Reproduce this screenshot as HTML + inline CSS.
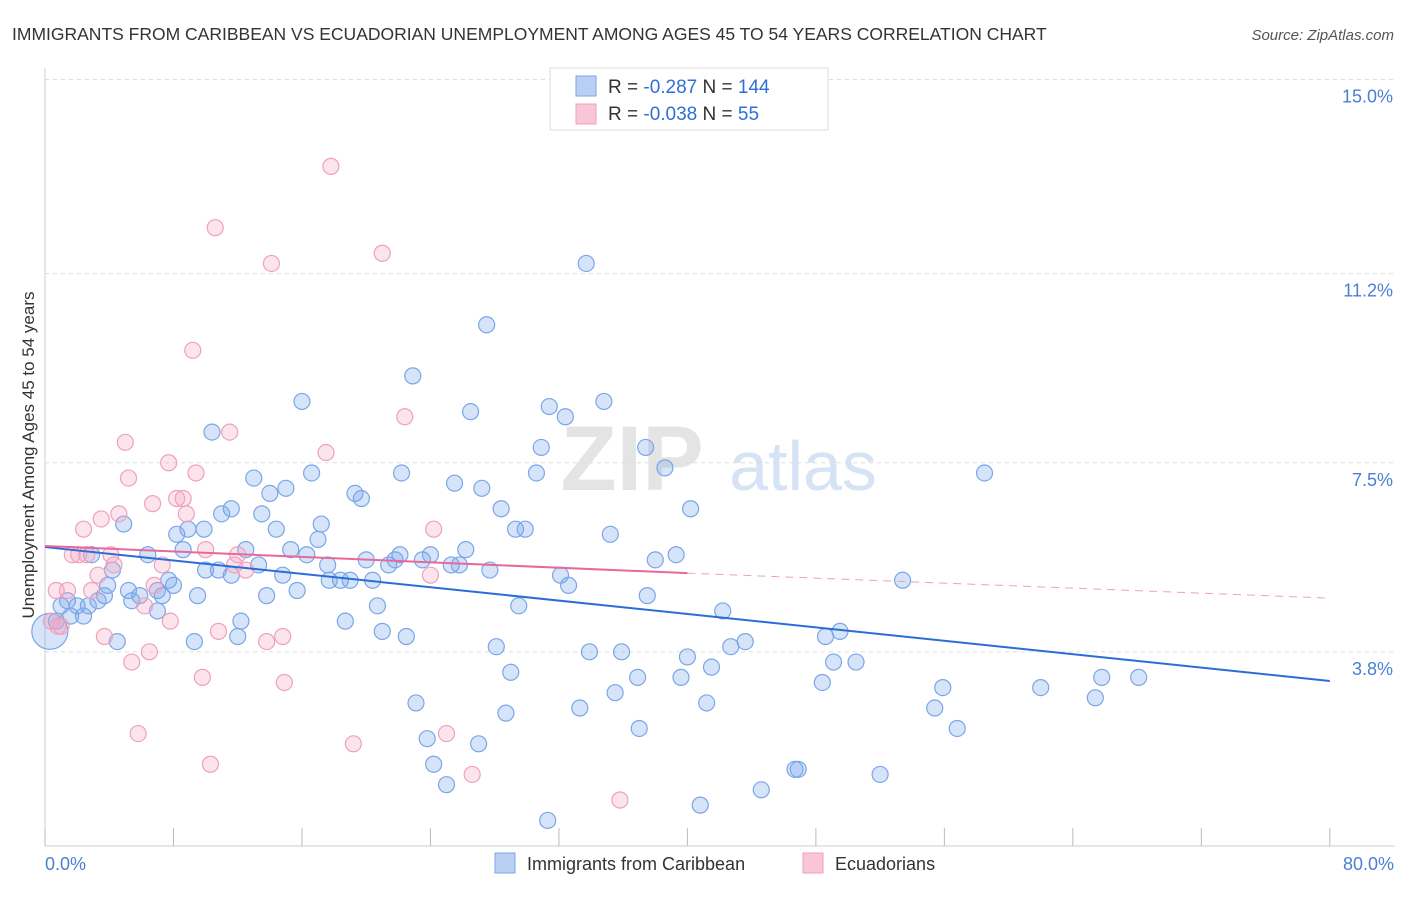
<!DOCTYPE html>
<html><head><meta charset="utf-8"><style>
body{margin:0;background:#fff;font-family:"Liberation Sans",sans-serif;}
svg text{font-family:"Liberation Sans",sans-serif;}
</style></head><body>
<svg id="chart" width="1406" height="892" xmlns="http://www.w3.org/2000/svg">
<text x="12" y="40" font-size="17.5" fill="#333">IMMIGRANTS FROM CARIBBEAN VS ECUADORIAN UNEMPLOYMENT AMONG AGES 45 TO 54 YEARS CORRELATION CHART</text>
<text x="1394" y="40" font-size="15" fill="#555" font-style="italic" text-anchor="end">Source: ZipAtlas.com</text>
<g><text x="632" y="490" font-size="92" fill="#e4e4e4" text-anchor="middle" font-family="Liberation Serif" font-weight="bold">ZIP</text><text x="803" y="490" font-size="70" fill="#d6e3f4" text-anchor="middle">atlas</text></g>
<g id="grid"></g><g id="axes"></g><g id="pts"></g><g id="lines"></g>
<text x="34" y="455" font-size="17" fill="#333" text-anchor="middle" transform="rotate(-90 34 455)">Unemployment Among Ages 45 to 54 years</text>
<text x="45" y="870" font-size="18" fill="#4a7fd4">0.0%</text>
<text x="1394" y="870" font-size="18" fill="#4a7fd4" text-anchor="end">80.0%</text>
<g>
<rect x="550" y="68" width="278" height="62" fill="#fff" stroke="#ddd"/>
<rect x="576" y="76" width="20" height="20" fill="#b9d0f3" stroke="#7aa6e8"/>
<rect x="576" y="104" width="20" height="20" fill="#f9c6d6" stroke="#f0a0bb"/>
<text x="608" y="93" font-size="19" fill="#333">R = <tspan fill="#2f6fd6">-0.287</tspan>   N = <tspan fill="#2f6fd6">144</tspan></text>
<text x="608" y="120" font-size="19" fill="#333">R = <tspan fill="#2f6fd6">-0.038</tspan>   N = <tspan fill="#2f6fd6">  55</tspan></text>
</g>
<g>
<rect x="495" y="853" width="20" height="20" fill="#b9d0f3" stroke="#7aa6e8"/>
<text x="527" y="870" font-size="18" fill="#333">Immigrants from Caribbean</text>
<rect x="803" y="853" width="20" height="20" fill="#f9c6d6" stroke="#f0a0bb"/>
<text x="835" y="870" font-size="18" fill="#333">Ecuadorians</text>
</g>
</svg>
<script>
const yTicks=[15.0,11.2,7.5,3.8];
const yTickLabels=["15.0%","11.2%","7.5%","3.8%"];
const xTicks=[0,8,16,24,32,40,48,56,64,72,80];
const blueX=[33.7,27.5,22.9,16.0,26.5,31.4,32.4,34.8,10.4,30.9,37.4,38.6,22.2,30.6,58.5,13.0,16.6,25.5,27.2,14.0,15.0,19.3,19.7,28.4,40.2,11.6,11.0,13.5,17.2,4.9,8.9,9.9,14.4,29.3,29.9,35.2,8.2,17.0,8.6,6.4,2.9,12.5,15.3,16.3,22.1,24.0,26.2,39.3,20.0,21.8,23.5,17.6,13.3,38.0,21.4,25.3,25.8,27.7,4.2,10.0,10.8,11.6,32.1,14.8,19.0,17.7,18.4,20.4,53.4,32.6,3.9,7.7,8.0,7.0,15.7,5.2,5.9,7.3,9.5,13.8,37.5,3.7,5.4,3.3,1.4,1.0,2.0,2.7,20.7,29.5,42.2,7.0,1.6,2.4,0.7,18.7,12.2,49.5,48.6,12.0,21.0,22.5,4.5,43.6,42.7,9.3,28.1,33.9,35.9,40.0,41.5,49.1,50.5,29.0,36.9,39.6,65.8,68.1,48.4,55.9,62.0,35.5,65.4,23.1,33.3,41.2,28.7,55.4,56.8,37.0,23.8,27.0,24.2,46.7,46.9,52.0,25.0,44.6,40.8,31.3,0.3];
const blueY=[11.4,10.2,9.2,8.7,8.5,8.6,8.4,8.7,8.1,7.8,7.8,7.4,7.3,7.3,7.3,7.2,7.3,7.1,7.0,6.9,7.0,6.9,6.8,6.6,6.6,6.6,6.5,6.5,6.3,6.3,6.2,6.2,6.2,6.2,6.2,6.1,6.1,6.0,5.8,5.7,5.7,5.8,5.8,5.7,5.7,5.7,5.8,5.7,5.6,5.6,5.6,5.5,5.5,5.6,5.5,5.5,5.5,5.4,5.4,5.4,5.4,5.3,5.3,5.3,5.2,5.2,5.2,5.2,5.2,5.1,5.1,5.2,5.1,5.0,5.0,5.0,4.9,4.9,4.9,4.9,4.9,4.9,4.8,4.8,4.8,4.7,4.7,4.7,4.7,4.7,4.6,4.6,4.5,4.5,4.4,4.4,4.4,4.2,4.1,4.1,4.2,4.1,4.0,4.0,3.9,4.0,3.9,3.8,3.8,3.7,3.5,3.6,3.6,3.4,3.3,3.3,3.3,3.3,3.2,3.1,3.1,3.0,2.9,2.8,2.7,2.8,2.6,2.7,2.3,2.3,2.1,2.0,1.6,1.5,1.5,1.4,1.2,1.1,0.8,0.5,4.2];
const pinkX=[17.8,10.6,21.0,14.1,9.2,22.4,11.5,5.0,17.5,7.7,9.4,5.2,6.7,8.2,8.6,4.6,3.5,8.8,24.2,2.4,1.7,2.1,2.6,4.1,10.0,12.0,4.3,7.3,11.8,12.5,24.0,3.3,0.7,1.4,6.8,2.9,6.2,7.8,0.4,0.8,1.0,10.8,3.7,14.8,13.8,6.5,5.4,9.8,14.9,5.8,25.0,19.2,10.3,26.6,35.8];
const pinkY=[13.3,12.1,11.6,11.4,9.7,8.4,8.1,7.9,7.7,7.5,7.3,7.2,6.7,6.8,6.8,6.5,6.4,6.5,6.2,6.2,5.7,5.7,5.7,5.7,5.8,5.7,5.5,5.5,5.5,5.4,5.3,5.3,5.0,5.0,5.1,5.0,4.7,4.4,4.4,4.3,4.3,4.2,4.1,4.1,4.0,3.8,3.6,3.3,3.2,2.2,2.2,2.0,1.6,1.4,0.9];
const blueTrend=[5.85,3.23];   // values at x=0 and x=80
const pinkTrend=[5.87,5.34,4.85]; // values at x=0, 40, 80
const NS="http://www.w3.org/2000/svg";
const X=v=>45+v*16.06, Y=v=>846-v*51.1;
function mk(tag,attrs,parent){const e=document.createElementNS(NS,tag);for(const k in attrs)e.setAttribute(k,attrs[k]);document.getElementById(parent).appendChild(e);return e;}
yTicks.forEach((t,i)=>{
  const l=mk('line',{x1:45,x2:1395,y1:Y(t),y2:Y(t),stroke:'#ddd','stroke-dasharray':'4,4'},'grid');
  
  
  const tx=mk('text',{x:1393,y:Y(t)+23,'font-size':18,fill:'#4a7fd4','text-anchor':'end'},'grid');
  tx.textContent=yTickLabels[i];
  
  
});
const ax=mk('line',{x1:45,x2:1395,y1:846,y2:846,stroke:'#ccc'},'axes');


const ay=mk('line',{x1:45,x2:45,y1:68,y2:846,stroke:'#ccc'},'axes');


xTicks.forEach(t=>{
  const l=mk('line',{x1:X(t),x2:X(t),y1:828,y2:846,stroke:'#bbb'},'axes');
  
  
});
blueX.forEach((x,i)=>{
  const big=i===blueX.length-1;
  const c=mk('circle',{cx:X(x),cy:Y(blueY[i]),r:big?18:8,fill:'rgba(120,165,235,0.3)',stroke:'#7aa6e8','stroke-width':1.2},'pts');
  
  
});
pinkX.forEach((x,i)=>{
  const c=mk('circle',{cx:X(x),cy:Y(pinkY[i]),r:8,fill:'rgba(245,165,195,0.3)',stroke:'#f0a0bb','stroke-width':1.2},'pts');
  
  
});
const bl=mk('line',{x1:X(0),y1:Y(blueTrend[0]),x2:X(80),y2:Y(blueTrend[1]),stroke:'#2a6dd8','stroke-width':2},'lines');


const pl=mk('line',{x1:X(0),y1:Y(pinkTrend[0]),x2:X(40),y2:Y(pinkTrend[1]),stroke:'#e8689a','stroke-width':2},'lines');


const pd=mk('line',{x1:X(40),y1:Y(pinkTrend[1]),x2:X(80),y2:Y(pinkTrend[2]),stroke:'#f0a0bb','stroke-width':1,'stroke-dasharray':'8,6'},'lines');


</script>
</body></html>
